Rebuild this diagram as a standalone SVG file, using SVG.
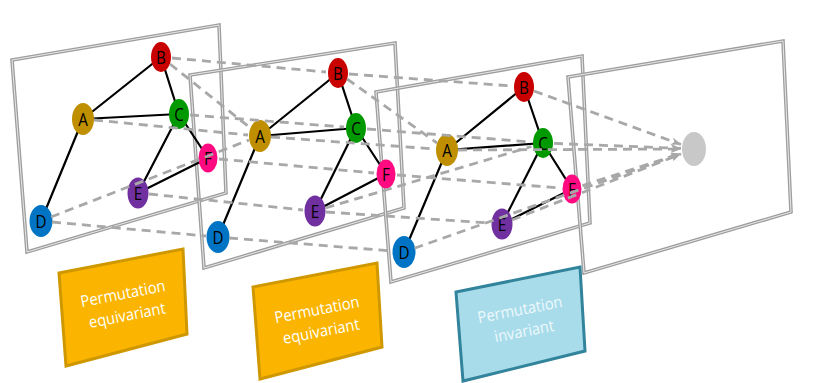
<svg xmlns="http://www.w3.org/2000/svg" width="824" height="383" viewBox="0 0 824 383">
<style>
.fo{fill:none;stroke:#9e9e9e;stroke-width:3.6;stroke-linejoin:miter}
.fi{fill:none;stroke:#e8e8e8;stroke-width:1}
.ed{stroke:#000;stroke-width:2.2;fill:none}
.ds{stroke:#a8a8a8;stroke-width:2.8;stroke-dasharray:9 6;fill:none}
.ar{marker-end:url(#ah)}
.lb{font-family:"Open Sans","DejaVu Sans",sans-serif;font-size:19px;fill:#000;text-anchor:middle}
.bt{font-family:"Open Sans","DejaVu Sans",sans-serif;font-size:16px;text-anchor:middle}
.na{fill:#bf8f00}.nb{fill:#c80000}.nc{fill:#009a00}.nd{fill:#0074c4}.ne{fill:#7030a0}.nf{fill:#ff0a80}
</style>
<defs>
<marker id="ah" markerUnits="userSpaceOnUse" markerWidth="12" markerHeight="10" refX="10" refY="4" orient="auto">
<path d="M0,0 L10,4 L0,8 L3,4 z" fill="#a8a8a8"/>
</marker>
</defs>
<g id="panels">
<polygon class="fo" points="12,60 219,25 226,193 27,252"/><polygon class="fi" points="12,60 219,25 226,193 27,252"/>
<polygon class="fo" points="190,75 395,43 404,208 204,268"/><polygon class="fi" points="190,75 395,43 404,208 204,268"/>
<polygon class="fo" points="376,92 582,56 590,223 391,282"/><polygon class="fi" points="376,92 582,56 590,223 391,282"/>
<polygon class="fo" points="568,77 783,41 791,212 584,273"/><polygon class="fi" points="568,77 783,41 791,212 584,273"/>
</g>
<g id="graph1-edges">
<path class="ed" d="M83,119L161,57 M83,119L179,114 M83,119L41,221 M161,57L179,114 M179,114L138,193 M179,114L208,158 M138,193L208,158"/>
</g>
<g id="graph2-edges">
<path class="ed" d="M260,136L338,73 M260,136L356,128 M260,136L218,237 M338,73L356,128 M356,128L315,211 M356,128L386,174 M315,211L386,174"/>
</g>
<g id="graph3-edges">
<path class="ed" d="M447,150L524,87 M447,150L543,143 M447,150L404,252 M524,87L543,143 M543,143L502,224 M543,143L572,189 M502,224L572,189"/>
</g>
<g id="node-A1"><ellipse class="na" cx="83" cy="119" rx="11" ry="16"/><text class="lb" transform="translate(83 126) scale(0.8 1)">A</text></g>
<g id="node-B1"><ellipse class="nb" cx="161" cy="57" rx="10" ry="15"/><text class="lb" transform="translate(161 64) scale(0.8 1)">B</text></g>
<g id="node-C1"><ellipse class="nc" cx="179" cy="114" rx="10" ry="15"/><text class="lb" transform="translate(179 121) scale(0.8 1)">C</text></g>
<g id="node-D1"><ellipse class="nd" cx="41" cy="221" rx="11.5" ry="16"/><text class="lb" transform="translate(41 228) scale(0.8 1)">D</text></g>
<g id="node-E1"><ellipse class="ne" cx="138" cy="193" rx="10.5" ry="15.5"/><text class="lb" transform="translate(138 200) scale(0.8 1)">E</text></g>
<g id="node-F1"><ellipse class="nf" cx="208" cy="158" rx="9.5" ry="14.5"/><text class="lb" transform="translate(208 165) scale(0.8 1)">F</text></g>
<g id="node-A2"><ellipse class="na" cx="260" cy="136" rx="11" ry="16"/><text class="lb" transform="translate(260 143) scale(0.8 1)">A</text></g>
<g id="node-B2"><ellipse class="nb" cx="338" cy="73" rx="10" ry="15"/><text class="lb" transform="translate(338 80) scale(0.8 1)">B</text></g>
<g id="node-C2"><ellipse class="nc" cx="356" cy="128" rx="10" ry="15"/><text class="lb" transform="translate(356 135) scale(0.8 1)">C</text></g>
<g id="node-D2"><ellipse class="nd" cx="218" cy="237" rx="11.5" ry="16"/><text class="lb" transform="translate(218 244) scale(0.8 1)">D</text></g>
<g id="node-E2"><ellipse class="ne" cx="315" cy="211" rx="10.5" ry="15.5"/><text class="lb" transform="translate(315 218) scale(0.8 1)">E</text></g>
<g id="node-F2"><ellipse class="nf" cx="386" cy="174" rx="9.5" ry="14.5"/><text class="lb" transform="translate(386 181) scale(0.8 1)">F</text></g>
<g id="node-A3"><ellipse class="na" cx="447" cy="150" rx="11" ry="16"/><text class="lb" transform="translate(447 157) scale(0.8 1)">A</text></g>
<g id="node-B3"><ellipse class="nb" cx="524" cy="87" rx="10" ry="15"/><text class="lb" transform="translate(524 94) scale(0.8 1)">B</text></g>
<g id="node-C3"><ellipse class="nc" cx="543" cy="143" rx="10" ry="15"/><text class="lb" transform="translate(543 150) scale(0.8 1)">C</text></g>
<g id="node-D3"><ellipse class="nd" cx="404" cy="252" rx="11.5" ry="16"/><text class="lb" transform="translate(404 259) scale(0.8 1)">D</text></g>
<g id="node-E3"><ellipse class="ne" cx="502" cy="224" rx="10.5" ry="15.5"/><text class="lb" transform="translate(502 231) scale(0.8 1)">E</text></g>
<g id="node-F3"><ellipse class="nf" cx="572" cy="189" rx="9.5" ry="14.5"/><text class="lb" transform="translate(572 196) scale(0.8 1)">F</text></g>
<g id="node-G"><ellipse fill="#c8c8c8" cx="694" cy="149" rx="12" ry="17"/></g>
<g id="connectors">
<line class="ds" x1="94" y1="120" x2="248" y2="135"/>
<line class="ds" x1="172" y1="58" x2="326" y2="72"/>
<line class="ds" x1="170" y1="64" x2="251" y2="128.5"/>
<line class="ds" x1="190" y1="115" x2="344" y2="127"/>
<line class="ds" x1="52" y1="222" x2="206" y2="236"/>
<line class="ds" x1="51" y1="217" x2="249" y2="140"/>
<line class="ds" x1="149" y1="194" x2="303" y2="210"/>
<line class="ds" x1="219" y1="159" x2="374" y2="173"/>
<line class="ds" x1="271" y1="137" x2="435" y2="149"/>
<line class="ds" x1="349" y1="74" x2="512" y2="86"/>
<line class="ds" x1="347" y1="79" x2="437" y2="143"/>
<line class="ds" x1="367" y1="129" x2="531" y2="142"/>
<line class="ds" x1="229" y1="238" x2="392" y2="251"/>
<line class="ds" x1="325.5" y1="208" x2="531.5" y2="146.5"/>
<line class="ds" x1="326" y1="212" x2="490" y2="223"/>
<line class="ds" x1="397" y1="175" x2="560" y2="188"/>
<line class="ds ar" x1="458" y1="150" x2="681" y2="149"/>
<line class="ds ar" x1="534" y1="91" x2="681" y2="144.5"/>
<line class="ds ar" x1="554" y1="143.4" x2="681" y2="148.4"/>
<line class="ds ar" x1="414.4" y1="248.3" x2="681" y2="153.7"/>
<line class="ds ar" x1="512" y1="220" x2="681" y2="154"/>
<line class="ds ar" x1="582.5" y1="185.6" x2="681" y2="153.4"/>
</g>
<g id="box-equivariant-1">
<polygon points="59,273 183,249 187,334 66,366" fill="#fbb500" stroke="#cf9800" stroke-width="3"/>
<text class="bt" fill="#fff" transform="translate(124 299) rotate(-11) scale(0.92 1)"><tspan x="0" y="0">Permutation</tspan><tspan x="0" y="22">equivariant</tspan></text>
</g>
<g id="box-equivariant-2">
<polygon points="253,287 377,263 382,347 260,379" fill="#fbb500" stroke="#cf9800" stroke-width="3"/>
<text class="bt" fill="#fff" transform="translate(318 315) rotate(-11) scale(0.92 1)"><tspan x="0" y="0">Permutation</tspan><tspan x="0" y="22">equivariant</tspan></text>
</g>
<g id="box-invariant">
<polygon points="456,292 580,267 585,351 463,381" fill="#a9dcea" stroke="#31849b" stroke-width="3"/>
<text class="bt" fill="#eef9fc" transform="translate(521 315) rotate(-11) scale(0.92 1)"><tspan x="0" y="0">Permutation</tspan><tspan x="0" y="22">invariant</tspan></text>
</g>
</svg>
